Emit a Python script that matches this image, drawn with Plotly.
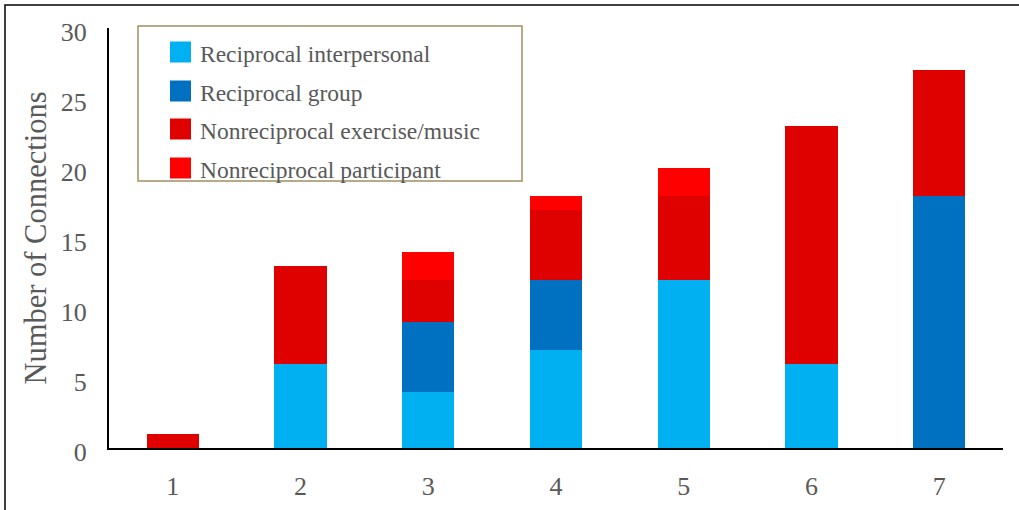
import plotly.graph_objects as go

categories = ["1", "2", "3", "4", "5", "6", "7"]
recip_interpersonal = [0, 6, 4, 7, 12, 6, 0]
recip_group = [0, 0, 5, 5, 0, 0, 18]
nonrecip_exercise = [1, 7, 3, 5, 6, 17, 9]
nonrecip_participant = [0, 0, 2, 1, 2, 0, 0]

series = [
    ("Reciprocal interpersonal", recip_interpersonal, "#00B0F0"),
    ("Reciprocal group", recip_group, "#0070C0"),
    ("Nonreciprocal exercise/music", nonrecip_exercise, "#DF0000"),
    ("Nonreciprocal participant", nonrecip_participant, "#FF0000"),
]

# plot area in pixels (for converting legend layout)
L, R, T, B = 109, 1003, 28, 448
W, H = R - L, B - T


def px(x):
    return (x - L) / W


def py(y):
    return (B - y) / H


fig = go.Figure()
for name, vals, color in series:
    fig.add_trace(go.Bar(x=categories, y=vals, name=name, marker_color=color,
                         marker_line_width=0, showlegend=False))

font_family = "Liberation Serif, Times New Roman, serif"
text_color = "#595959"

shapes = [
    dict(type="rect", xref="paper", yref="paper",
         x0=px(138), x1=px(522), y0=py(181), y1=py(26),
         line=dict(color="#A09060", width=1.5), fillcolor="rgba(0,0,0,0)"),
    dict(type="rect", xref="paper", yref="paper",
         x0=px(5), x1=px(1030), y0=py(520), y1=py(5),
         line=dict(color="black", width=1.5), fillcolor="rgba(0,0,0,0)"),
]
annotations = []
legend_centers = [52, 91, 129, 168]
for (name, vals, color), cy in zip(series, legend_centers):
    shapes.append(dict(type="rect", xref="paper", yref="paper",
                       x0=px(170), x1=px(191), y0=py(cy + 10.5), y1=py(cy - 10.5),
                       line=dict(width=0), fillcolor=color))
    annotations.append(dict(xref="paper", yref="paper", x=px(198), y=py(cy + 2),
                            xanchor="left", yanchor="middle", showarrow=False,
                            text=name,
                            font=dict(size=23.5, family=font_family, color=text_color)))

fig.update_layout(
    barmode="stack",
    bargap=0.59,
    width=1019, height=510,
    margin=dict(l=L, r=1019 - R, t=T, b=510 - B),
    plot_bgcolor="white", paper_bgcolor="white",
    font=dict(family=font_family, color=text_color),
    showlegend=False,
    xaxis=dict(
        showline=True, linecolor="black", linewidth=2,
        ticks="", ticklabelstandoff=14, automargin=False,
        tickfont=dict(size=26, family=font_family, color=text_color),
        showgrid=False,
    ),
    yaxis=dict(
        range=[0, 30], dtick=5, showline=True, linecolor="black", linewidth=2,
        ticks="", showgrid=False, zeroline=False, automargin=False,
        ticklabelstandoff=15, ticklabelshift=4,
        tickfont=dict(size=26, family=font_family, color=text_color),
        title=dict(text="Number of Connections",
                   font=dict(size=30.5, family=font_family, color=text_color),
                   standoff=5),
    ),
    shapes=shapes,
    annotations=annotations,
)

fig.write_html("out.html")
